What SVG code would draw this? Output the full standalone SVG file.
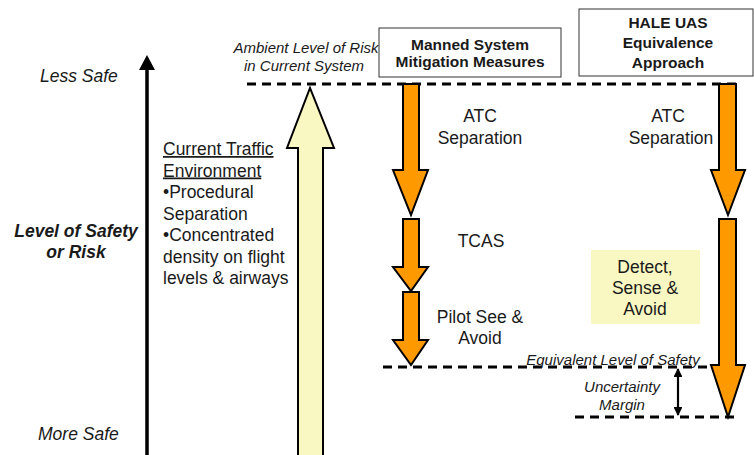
<svg xmlns="http://www.w3.org/2000/svg" width="754" height="455" viewBox="0 0 754 455">
<style>
text{font-family:"Liberation Sans",Arial,sans-serif;fill:#1a1a1a}
.t16{font-size:17.5px}
.hd{font-size:15.5px;font-weight:bold;text-anchor:middle}
.sm{font-size:15px;font-style:italic;text-anchor:middle}
.c{text-anchor:middle}
.it{font-style:italic}
.b{font-weight:bold}
.orange{fill:#FF9900;stroke:#000;stroke-width:2;stroke-linejoin:miter}
.dash{stroke:#000;stroke-width:3;stroke-dasharray:9 6;fill:none}
.box{fill:#fff;stroke:#333;stroke-width:1}
</style>
<defs>
<marker id="ah" viewBox="0 0 10 10" refX="9" refY="5" markerWidth="4" markerHeight="4" orient="auto-start-reverse">
<path d="M0,0 L10,5 L0,10 z" fill="#000"/>
</marker>
</defs>

<g id="axis">
<line x1="147" y1="455" x2="147" y2="68" stroke="#000" stroke-width="3.5"/>
<polygon points="139,70 147,55 155,70" fill="#000"/>
<text class="t16 it" x="40" y="82">Less Safe</text>
<text class="t16 it" x="38" y="440">More Safe</text>
<text class="t16 it b c" x="76" y="237">Level of Safety</text>
<text class="t16 it b c" x="76" y="258">or Risk</text>
</g>

<g id="current-traffic">
<polygon points="298,460 298,148 287,148 310,88 334,148 323,148 323,460" fill="#FAF8C2" stroke="#000" stroke-width="2"/>
<text class="t16" x="163" y="155" text-decoration="underline">Current Traffic</text>
<text class="t16" x="163" y="176.5" text-decoration="underline">Environment</text>
<text class="t16" x="163" y="198">•Procedural</text>
<text class="t16" x="163" y="219.5">Separation</text>
<text class="t16" x="163" y="241">•Concentrated</text>
<text class="t16" x="163" y="262.5">density on flight</text>
<text class="t16" x="163" y="284">levels &amp; airways</text>
</g>

<g id="ambient-label">
<text class="sm" font-size="16" x="306" y="53">Ambient Level of Risk</text>
<text class="sm" font-size="16" x="304" y="71">in Current System</text>
</g>

<g id="manned-header">
<rect class="box" x="379" y="28" width="182" height="49"/>
<text class="hd" x="470" y="50">Manned System</text>
<text class="hd" x="470" y="67">Mitigation Measures</text>
</g>

<g id="hale-header">
<rect class="box" x="579" y="9" width="174" height="67"/>
<text class="hd" x="668" y="28">HALE UAS</text>
<text class="hd" x="668" y="48">Equivalence</text>
<text class="hd" x="668" y="68">Approach</text>
</g>

<g id="connectors">
<line class="dash" x1="247" y1="84" x2="737" y2="84"/>
<line class="dash" x1="383" y1="367" x2="737" y2="367"/>
<line class="dash" x1="575" y1="417" x2="737" y2="417"/>
<line x1="678" y1="369" x2="678" y2="415" stroke="#000" stroke-width="2.2" marker-start="url(#ah)" marker-end="url(#ah)"/>
</g>

<g id="manned-atc">
<polygon class="orange" points="403,84 419,84 419,170 428,170 411,215 393,170 403,170"/>
<text class="t16 c" x="480" y="122">ATC</text>
<text class="t16 c" x="480" y="144">Separation</text>
</g>

<g id="manned-tcas">
<polygon class="orange" points="403,219 419,219 419,267 428,267 411,291 393,267 403,267"/>
<text class="t16 c" x="481" y="247">TCAS</text>
</g>

<g id="manned-pilot">
<polygon class="orange" points="403,292 419,292 419,340 428,340 411,365 393,340 403,340"/>
<text class="t16 c" x="480" y="323">Pilot See &amp;</text>
<text class="t16 c" x="480" y="344">Avoid</text>
</g>

<g id="hale-atc">
<polygon class="orange" points="719,84 736,84 736,170 745,170 728,215 711,170 719,170"/>
<text class="t16 c" x="668" y="122">ATC</text>
<text class="t16 c" x="671" y="144">Separation</text>
</g>

<g id="hale-dsa">
<polygon class="orange" points="719,219 736,219 736,365 745,365 728,417 711,365 719,365"/>
<rect x="591" y="250" width="109" height="74" fill="#FAF8C2"/>
<text class="t16 c" x="645" y="273">Detect,</text>
<text class="t16 c" x="645" y="294">Sense &amp;</text>
<text class="t16 c" x="645" y="315">Avoid</text>
</g>

<g id="labels">
<text class="sm" font-size="15.5" x="613" y="365">Equivalent Level of Safety</text>
<text class="sm" x="622" y="392">Uncertainty</text>
<text class="sm" x="622" y="410">Margin</text>
</g>
</svg>
